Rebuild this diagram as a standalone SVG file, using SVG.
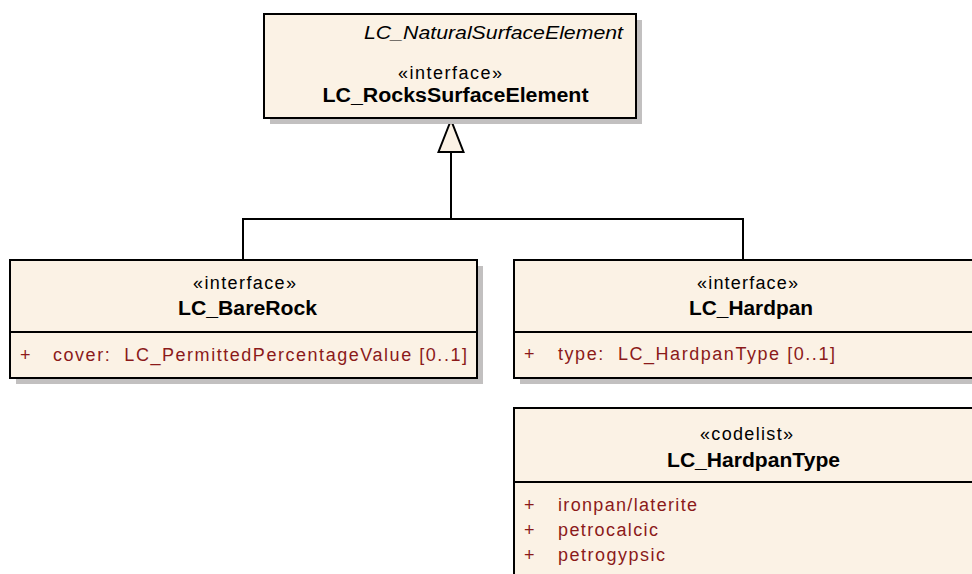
<svg xmlns="http://www.w3.org/2000/svg" width="972" height="574" viewBox="0 0 972 574">
<defs>
<style>
.shadow{fill:#c2c0c0;stroke:none}
.box{fill:#fbf2e5;stroke:#000;stroke-width:2}
.div{stroke:#000;stroke-width:2}
.st{font-family:"Liberation Sans",Arial,sans-serif;font-size:18px;fill:#000}
.nm{font-family:"Liberation Sans",Arial,sans-serif;font-size:19.5px;font-weight:bold;fill:#000}
.it{font-family:"Liberation Sans",Arial,sans-serif;font-size:18.5px;font-style:italic;fill:#000}
.at{font-family:"Liberation Sans",Arial,sans-serif;font-size:18px;fill:#8b1a1a}
.ln{fill:none;stroke:#000;stroke-width:2}
.tri{fill:#fbf2e5;stroke:#000;stroke-width:2;stroke-linejoin:miter}
</style>
</defs>
<rect width="972" height="574" fill="#fff"/>
<g id="connectors">
<polyline class="ln" points="243,260 243,219 743,219 743,260"/>
<line class="ln" x1="451" y1="219" x2="451" y2="152"/>
<polygon class="tri" points="451,120 438.5,152 463.5,152"/>
</g>
<g id="LC_RocksSurfaceElement">
<rect class="shadow" x="270" y="20" width="372" height="104"/>
<rect class="box" x="264" y="14" width="372" height="104"/>
<text class="it" x="623" y="39" text-anchor="end" textLength="259" lengthAdjust="spacingAndGlyphs">LC_NaturalSurfaceElement</text>
<text class="st" x="450" y="79" text-anchor="middle" textLength="104" lengthAdjust="spacing">«interface»</text>
<text class="nm" x="455.5" y="102" text-anchor="middle" textLength="266" lengthAdjust="spacingAndGlyphs">LC_RocksSurfaceElement</text>
</g>
<g id="LC_BareRock">
<rect class="shadow" x="16" y="266" width="467" height="118"/>
<rect class="box" x="10" y="260" width="467" height="118"/>
<line class="div" x1="10" y1="332" x2="477" y2="332"/>
<text class="st" x="244.5" y="289" text-anchor="middle" textLength="103" lengthAdjust="spacing">«interface»</text>
<text class="nm" x="247.5" y="315" text-anchor="middle" textLength="139" lengthAdjust="spacingAndGlyphs">LC_BareRock</text>
<text class="at" x="20" y="361">+</text>
<text class="at" x="53" y="361" textLength="414" lengthAdjust="spacing" xml:space="preserve">cover:  LC_PermittedPercentageValue [0..1]</text>
</g>
<g id="LC_Hardpan">
<rect class="shadow" x="520" y="266" width="470" height="118"/>
<rect class="box" x="514" y="260" width="470" height="118"/>
<line class="div" x1="514" y1="332" x2="984" y2="332"/>
<text class="st" x="747.5" y="289" text-anchor="middle" textLength="101" lengthAdjust="spacing">«interface»</text>
<text class="nm" x="751" y="315" text-anchor="middle" textLength="124" lengthAdjust="spacingAndGlyphs">LC_Hardpan</text>
<text class="at" x="524" y="360">+</text>
<text class="at" x="558" y="360" textLength="277" lengthAdjust="spacing" xml:space="preserve">type:  LC_HardpanType [0..1]</text>
</g>
<g id="LC_HardpanType">
<rect class="shadow" x="520" y="414" width="470" height="200"/>
<rect class="box" x="514" y="408" width="470" height="200"/>
<line class="div" x1="514" y1="482" x2="984" y2="482"/>
<text class="st" x="746.5" y="440" text-anchor="middle" textLength="93" lengthAdjust="spacing">«codelist»</text>
<text class="nm" x="753.5" y="467" text-anchor="middle" textLength="173" lengthAdjust="spacingAndGlyphs">LC_HardpanType</text>
<text class="at" x="524" y="511">+</text>
<text class="at" x="558" y="511" textLength="139" lengthAdjust="spacing">ironpan/laterite</text>
<text class="at" x="524" y="536">+</text>
<text class="at" x="558" y="536" textLength="100" lengthAdjust="spacing">petrocalcic</text>
<text class="at" x="524" y="561">+</text>
<text class="at" x="558" y="561" textLength="107" lengthAdjust="spacing">petrogypsic</text>
</g>
</svg>
